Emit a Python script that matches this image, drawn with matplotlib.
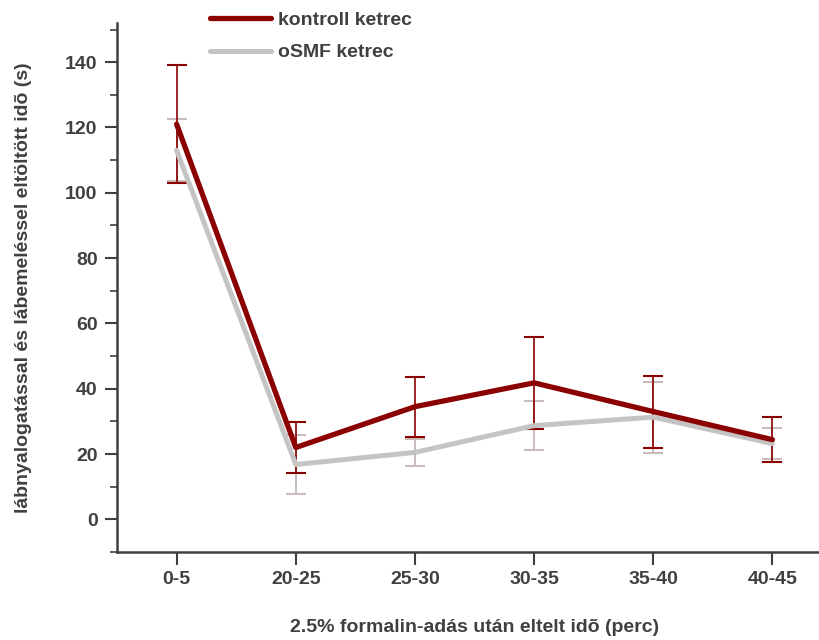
import matplotlib
matplotlib.use("Agg")
import matplotlib.pyplot as plt
from matplotlib.ticker import MultipleLocator
import numpy as np

# Adatok (leolvasva az ábráról)
categories = ["0-5", "20-25", "25-30", "30-35", "35-40", "40-45"]
kontroll_mean = [121, 22, 34.5, 41.8, 33, 24.4]
kontroll_err = [18, 7.8, 9.2, 14, 11, 6.8]
osmf_mean = [113, 16.8, 20.5, 28.7, 31.3, 23.2]
osmf_err = [9.5, 9, 4.2, 7.5, 10.9, 4.8]

plt.rcParams['font.family'] = ['Liberation Sans Narrow', 'Liberation Sans', 'DejaVu Sans']
plt.rcParams['font.weight'] = 'bold'
text_col = '#404040'
fs = 14

fig = plt.figure(figsize=(8.19, 6.4), dpi=100)
ax = fig.add_axes([0.1429, 0.1375, 0.873, 0.8266])

x = np.arange(len(categories))
red = '#8b0000'
gray = '#c4c4c4'

ax.errorbar(x, osmf_mean, yerr=osmf_err, fmt='none', ecolor='#cbbcbc',
            elinewidth=1.4, capsize=7, capthick=1.5, zorder=2)
ax.errorbar(x, kontroll_mean, yerr=kontroll_err, fmt='none', ecolor=red,
            elinewidth=1.2, capsize=7, capthick=1.5, zorder=3)
ax.plot(x, osmf_mean, color=gray, linewidth=3.6, label='oSMF ketrec',
        solid_capstyle='round', zorder=4)
ax.plot(x, kontroll_mean, color=red, linewidth=3.8, label='kontroll ketrec',
        solid_capstyle='round', zorder=5)

ax.set_xlim(-0.5, 5.5)
ax.set_ylim(-10, 152)
ax.set_xticks(x)
ax.set_xticklabels(categories)
ax.set_yticks(np.arange(0, 141, 20))
ax.yaxis.set_minor_locator(MultipleLocator(10))

for s in ['top', 'right']:
    ax.spines[s].set_visible(False)
for s in ['left', 'bottom']:
    ax.spines[s].set_color('#404040')
    ax.spines[s].set_linewidth(1.8)

ax.tick_params(axis='both', which='major', length=9, width=1.5, color='#404040',
               labelsize=fs, labelcolor=text_col, pad=5)
ax.tick_params(axis='y', which='minor', length=5, width=1.2, color='#404040')

ax.set_xlabel("2.5% formalin-adás után eltelt idõ (perc)", fontsize=fs,
              color=text_col, fontweight='bold', labelpad=22)
ax.set_ylabel("lábnyalogatással és lábemeléssel eltöltött idõ (s)", fontsize=fs,
              color=text_col, fontweight='bold', labelpad=24)

handles, labels = ax.get_legend_handles_labels()
leg = ax.legend(handles[::-1], labels[::-1], loc='upper left',
                bbox_to_anchor=(0.257, 0.982), bbox_transform=fig.transFigure,
                frameon=False, fontsize=fs, handlelength=3.1, handletextpad=0.35,
                labelspacing=0.75, borderpad=0, borderaxespad=0)
for t in leg.get_texts():
    t.set_color(text_col)

fig.savefig("out.png", dpi=100)
